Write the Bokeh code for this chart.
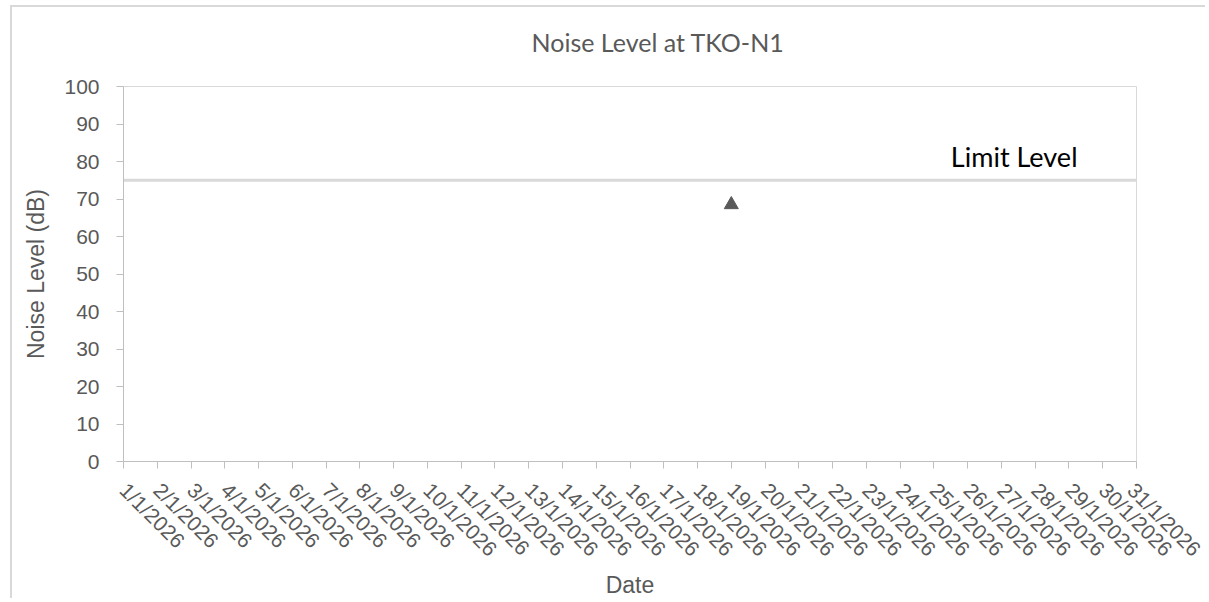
import math
from bokeh.plotting import figure
from bokeh.models import Range1d, FixedTicker, Label, Title
from bokeh.embed import file_html
from bokeh.resources import INLINE

# ---- data ----
dates = ["1/1/2026", "2/1/2026", "3/1/2026", "4/1/2026", "5/1/2026", "6/1/2026",
         "7/1/2026", "8/1/2026", "9/1/2026", "10/1/2026", "11/1/2026", "12/1/2026",
         "13/1/2026", "14/1/2026", "15/1/2026", "16/1/2026", "17/1/2026", "18/1/2026",
         "19/1/2026", "20/1/2026", "21/1/2026", "22/1/2026", "23/1/2026", "24/1/2026",
         "25/1/2026", "26/1/2026", "27/1/2026", "28/1/2026", "29/1/2026", "30/1/2026",
         "31/1/2026"]
measured_dates = ["19/1/2026"]
measured_levels = [68.5]
limit_level = [75] * len(dates)
y_ticks = [0, 10, 20, 30, 40, 50, 60, 70, 80, 90, 100]
chart_title = "Noise Level at TKO-N1"

# positions along the date axis (1-based index of each date)
xpos = list(range(1, len(dates) + 1))
meas_x = [dates.index(d) + 1 for d in measured_dates]

GREY = "#595959"
AXIS = "#bfbfbf"

p = figure(width=1195, height=593, output_backend="svg", toolbar_location=None,
           x_range=Range1d(1, len(dates)), y_range=Range1d(0, 100),
           min_border_left=111, min_border_right=71, min_border_top=79,
           min_border_bottom=137,
           styles={"margin-left": "10px", "margin-top": "5px",
                   "border-left": "2px solid #d9d9d9", "border-top": "2px solid #d9d9d9"})
p.title = None

# small spacer panel between the frame and the title
p.add_layout(Title(text="\u00a0", text_font_size="1px", standoff=8), "above")
p.add_layout(Title(text=chart_title, align="left", offset=408, vertical_align="middle",
                   standoff=36, text_font="Lato", text_font_size="25px",
                   text_font_style="normal", text_color=GREY), "above")

p.outline_line_color = "#d9d9d9"
p.outline_line_width = 1
p.xgrid.visible = False
p.ygrid.visible = False
p.background_fill_color = "white"
p.border_fill_color = "white"

# limit line series
p.line(xpos, limit_level, line_color="#d9d9d9", line_width=3)
# measured noise
p.scatter(meas_x, measured_levels, marker="triangle", size=14,
          fill_color=GREY, line_color=GREY)

p.add_layout(Label(x=xpos[-1], y=limit_level[-1], x_offset=-59, y_offset=24,
                   text="Limit Level", text_align="right", text_baseline="alphabetic",
                   text_font="Lato", text_font_size="27px", text_color="black"))

# x axis
xa = p.xaxis[0]
xa.ticker = FixedTicker(ticks=xpos)
xa.major_label_overrides = {x: d for x, d in zip(xpos, dates)}
xa.major_label_orientation = -math.pi / 4
xa.axis_label = "Date"

ya = p.yaxis[0]
ya.ticker = FixedTicker(ticks=y_ticks)
ya.axis_label = "Noise Level (dB)"

for ax in (xa, ya):
    ax.axis_line_color = AXIS
    ax.axis_line_width = 1
    ax.major_tick_line_color = AXIS
    ax.major_tick_out = 7
    ax.major_tick_in = 0
    ax.minor_tick_line_color = None
    ax.major_label_text_font = "Liberation Sans"
    ax.major_label_text_font_size = "21px"
    ax.major_label_text_color = GREY
    ax.axis_label_text_font = "Liberation Sans"
    ax.axis_label_text_font_size = "23px"
    ax.axis_label_text_font_style = "normal"
    ax.axis_label_text_color = GREY

xa.major_label_standoff = 18
xa.axis_label_standoff = 0
ya.major_label_standoff = 17
ya.axis_label_standoff = 12

open("out.html", "w").write(file_html(p, INLINE))
